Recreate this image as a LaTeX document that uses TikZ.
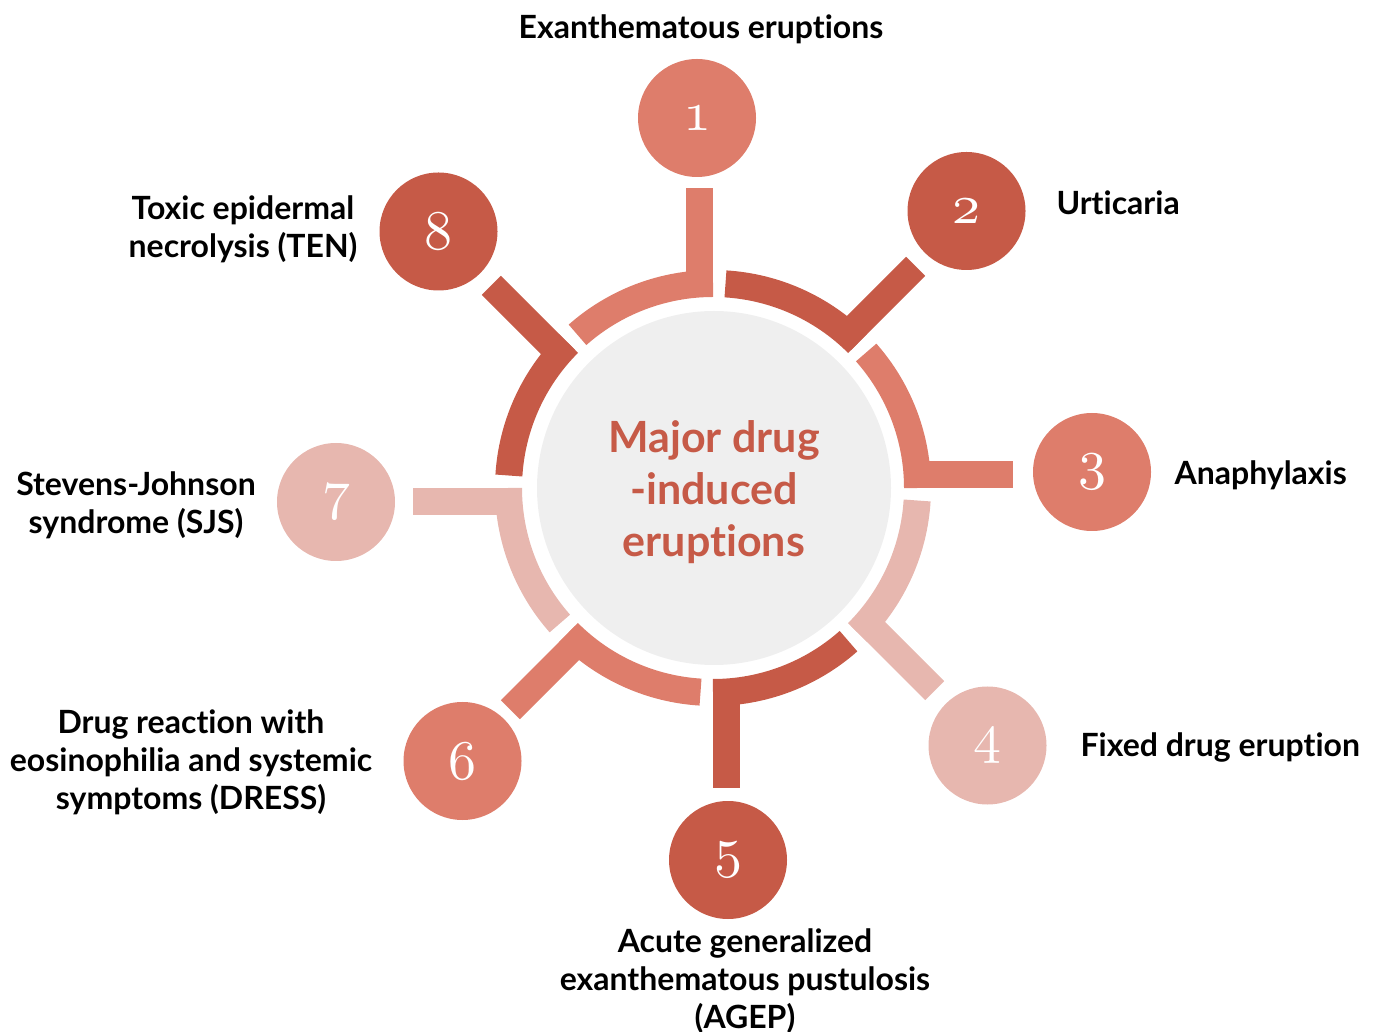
\documentclass[tikz,border=0pt]{standalone}
\usepackage{fontspec}
\setmainfont{Lato}[Ligatures=NoCommon]
\usepackage{graphicx}
\usepackage{tikz}

\definecolor{dark}{HTML}{C65A47}
\definecolor{mid}{HTML}{DE7D6B}
\definecolor{light}{HTML}{E7B7AF}
\definecolor{hub}{HTML}{EFEFEF}
\newcommand{\osf}[1]{\scalebox{5.6}{\fontsize{10}{10}\usefont{OML}{cmm}{m}{it}#1}}

\begin{document}
\begin{tikzpicture}[x=1pt, y=1pt,
    band/.style={line width=27pt},
    num/.style={circle, minimum size=118pt, inner sep=0pt, text=white},
    lbl/.style={align=center, font=\fontsize{32}{38}\selectfont\bfseries}]
    \useasboundingbox (0,0) rectangle (1375,1031);

    \fill[hub] (714,543) circle (177pt);
    \node[text=dark, align=center, font=\fontsize{43}{52}\selectfont\bfseries] (hubtext) at (714,539) {Major drug\\-induced\\eruptions};

    % 1 - top
    \begin{scope}[shift={(713,543)}, rotate=90]
        \draw[band, mid] (0:204.5pt) arc[start angle=0, end angle=41.5, radius=204.5pt];
        \fill[mid] (195,0) rectangle (300,27);
    \end{scope}
    % 2
    \begin{scope}[shift={(713,543)}, rotate=45]
        \draw[band, dark] (0:204.5pt) arc[start angle=0, end angle=41.5, radius=204.5pt];
        \fill[dark] (195,0) rectangle (300,27);
    \end{scope}
    % 3
    \begin{scope}[shift={(713,543)}, rotate=0]
        \draw[band, mid] (0:204.5pt) arc[start angle=0, end angle=41.5, radius=204.5pt];
        \fill[mid] (195,0) rectangle (300,27);
    \end{scope}
    % 4
    \begin{scope}[shift={(713,543)}, rotate=-45]
        \draw[band, light] (0:204.5pt) arc[start angle=0, end angle=41.5, radius=204.5pt];
        \fill[light] (195,0) rectangle (300,27);
    \end{scope}
    % 5 - bottom
    \begin{scope}[shift={(713,543)}, rotate=-90]
        \draw[band, dark] (0:204.5pt) arc[start angle=0, end angle=41.5, radius=204.5pt];
        \fill[dark] (195,0) rectangle (300,27);
    \end{scope}
    % 6
    \begin{scope}[shift={(713,543)}, rotate=-135]
        \draw[band, mid] (0:204.5pt) arc[start angle=0, end angle=41.5, radius=204.5pt];
        \fill[mid] (195,0) rectangle (300,27);
    \end{scope}
    % 7
    \begin{scope}[shift={(713,543)}, rotate=180]
        \draw[band, light] (0:204.5pt) arc[start angle=0, end angle=41.5, radius=204.5pt];
        \fill[light] (195,0) rectangle (300,27);
    \end{scope}
    % 8
    \begin{scope}[shift={(713,543)}, rotate=135]
        \draw[band, dark] (0:204.5pt) arc[start angle=0, end angle=41.5, radius=204.5pt];
        \fill[dark] (195,0) rectangle (300,27);
    \end{scope}

    % numbered circles
    \node[num, fill=mid] (N1) at (697,913) {\osf{1}};
    \node[num, fill=dark] (N2) at (966.5,820) {\osf{2}};
    \node[num, fill=mid] (N3) at (1092,559) {\osf{3}};
    \node[num, fill=light] (N4) at (987.5,285.5) {\osf{4}};
    \node[num, fill=dark] (N5) at (728,171) {\osf{5}};
    \node[num, fill=mid] (N6) at (462.5,270) {\osf{6}};
    \node[num, fill=light] (N7) at (336,529) {\osf{7}};
    \node[num, fill=dark] (N8) at (438.5,799.5) {\osf{8}};

    % labels
    \node[lbl] (L1) at (701,1002) {Exanthematous eruptions};
    \node[lbl, anchor=west] (L2) at (1053,828) {Urticaria};
    \node[lbl, anchor=west] (L3) at (1171,556) {Anaphylaxis};
    \node[lbl, anchor=west] (L4) at (1077,283) {Fixed drug eruption};
    \node[lbl] (L5) at (745,50) {Acute generalized\\exanthematous pustulosis\\(AGEP)};
    \node[lbl] (L6) at (191,269) {Drug reaction with\\eosinophilia and systemic\\symptoms (DRESS)};
    \node[lbl] (L7) at (136,526) {Stevens-Johnson\\syndrome (SJS)};
    \node[lbl] (L8) at (243,802) {Toxic epidermal\\necrolysis (TEN)};
\end{tikzpicture}
\end{document}
